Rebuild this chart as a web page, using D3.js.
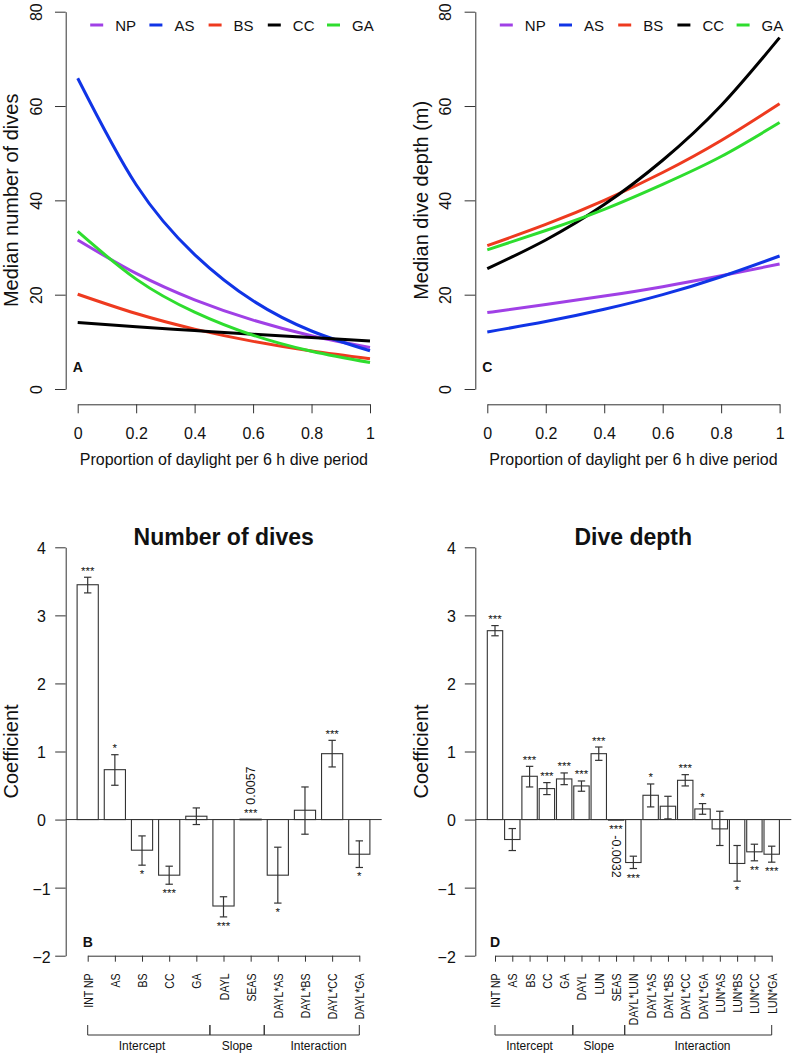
<!DOCTYPE html>
<html><head><meta charset="utf-8">
<script src="https://cdn.jsdelivr.net/npm/d3@7"></script>
<style>
body{margin:0;background:#fff}
svg{display:block;background:#fff}
text{font-family:"Liberation Sans",Arial,Helvetica,sans-serif;fill:#111}
</style>
</head><body>
<svg id="chart" width="795" height="1056"></svg>
<script>
// ---------- DATA ----------
const species = ["NP", "AS", "BS", "CC", "GA"];
const speciesColors = ["#A040E6", "#1034E6", "#EE3A1F", "#000000", "#2EDD2E"];
const daylight = [0, 0.2, 0.4, 0.6, 0.8, 1];
const xTickValues = [0, 0.2, 0.4, 0.6, 0.8, 1];
const xTickLabels = ["0", "0.2", "0.4", "0.6", "0.8", "1"];
const yTickTop = [0, 20, 40, 60, 80];

// Panel A: median number of dives
const divesNP = [31.6, 24.5, 18.9, 14.6, 11.3, 8.8];
const divesAS = [65.9, 43.3, 28.5, 18.7, 12.3, 8.1];
const divesBS = [20.1, 16.0, 12.7, 10.1, 8.05, 6.4];
const divesCC = [14.1, 13.2, 12.4, 11.6, 10.9, 10.2];
const divesGA = [33.4, 23.3, 16.3, 11.4, 8.0, 5.6];

// Panel C: median dive depth (m)
const depthNP = [16.2, 17.9, 19.7, 21.7, 24.0, 26.5];
const depthAS = [12.1, 14.3, 16.9, 20.0, 23.8, 28.2];
const depthBS = [30.4, 34.9, 40.0, 45.9, 52.7, 60.5];
const depthCC = [25.5, 31.6, 39.1, 48.5, 60.1, 74.5];
const depthGA = [29.5, 33.6, 38.1, 43.4, 49.3, 56.5];

// Panel B: coefficients, number of dives
const bCats = ["INT NP", "AS", "BS", "CC", "GA", "DAYL", "SEAS", "DAYL*AS", "DAYL*BS", "DAYL*CC", "DAYL*GA"];
const bVals = [3.45, 0.733, -0.45, -0.817, 0.049, -1.27, 0.0057, -0.817, 0.137, 0.968, -0.509];
const bLo   = [3.33, 0.504, -0.67, -0.95, -0.073, -1.43, 0.0057, -1.227, -0.215, 0.773, -0.704];
const bHi   = [3.56, 0.953, -0.24, -0.685, 0.171, -1.134, 0.0057, -0.406, 0.479, 1.164, -0.313];
const bSig  = ["***", "*", "*", "***", "", "***", "***", "*", "", "***", "*"];
const bNote = ["", "", "", "", "", "", "0.0057", "", "", "", ""];
const bGroups = ["Intercept", "Slope", "Interaction"];
const bGroupOf = [0, 0, 0, 0, 0, 1, 1, 2, 2, 2, 2];

// Panel D: coefficients, dive depth
const dCats = ["INT NP", "AS", "BS", "CC", "GA", "DAYL", "LUN", "SEAS", "DAYL*LUN", "DAYL*AS", "DAYL*BS", "DAYL*CC", "DAYL*GA", "LUN*AS", "LUN*BS", "LUN*CC", "LUN*GA"];
const dVals = [2.775, -0.293, 0.636, 0.455, 0.597, 0.494, 0.968, -0.0032, -0.631, 0.357, 0.196, 0.577, 0.156, -0.137, -0.645, -0.474, -0.509];
const dLo   = [2.70, -0.455, 0.479, 0.367, 0.513, 0.416, 0.870, -0.0032, -0.719, 0.186, 0.01, 0.494, 0.078, -0.381, -0.905, -0.606, -0.626];
const dHi   = [2.85, -0.132, 0.782, 0.543, 0.685, 0.567, 1.066, -0.0032, -0.538, 0.523, 0.342, 0.660, 0.235, 0.122, -0.381, -0.362, -0.391];
const dSig  = ["***", "", "***", "***", "***", "***", "***", "***", "***", "*", "", "***", "*", "", "*", "**", "***"];
const dNote = ["", "", "", "", "", "", "", "-0.0032", "", "", "", "", "", "", "", "", ""];
const dGroups = ["Intercept", "Slope", "Interaction"];
const dGroupOf = [0, 0, 0, 0, 0, 1, 1, 1, 2, 2, 2, 2, 2, 2, 2, 2, 2];
const yTickBar = [-2, -1, 0, 1, 2, 3, 4];

// ---------- DRAWING ----------
const svg = d3.select("#chart");
const AX = "#333";

function lineChart(o) {
  const g = svg.append("g");
  const x = d3.scaleLinear().domain([0, 1]).range([o.x0, o.x0 + 292.3]);
  const y = d3.scaleLinear().domain([0, 80]).range([389, 11.7]);

  const ya = g.append("g").attr("transform", `translate(${o.axisX},0)`)
    .call(d3.axisLeft(y).tickValues(yTickTop).tickFormat(d3.format("d")).tickSize(10.7).tickSizeOuter(0));
  ya.select(".domain").attr("stroke", AX);
  ya.selectAll(".tick line").attr("stroke", AX);
  ya.selectAll(".tick text").attr("x", 0).attr("dy", 0)
    .attr("transform", "translate(-24,0) rotate(-90)")
    .attr("text-anchor", "middle").style("font-size", "16px").attr("fill", "#111");

  const xa = g.append("g").attr("transform", `translate(0,404.3)`)
    .call(d3.axisBottom(x).tickValues(xTickValues).tickFormat((d, i) => xTickLabels[i]).tickSize(9).tickSizeOuter(0));
  xa.select(".domain").attr("stroke", AX);
  xa.selectAll(".tick line").attr("stroke", AX);
  xa.selectAll(".tick text").attr("y", 34.7).attr("dy", 0).style("font-size", "16px").attr("fill", "#111");

  g.append("text").attr("x", x(0.5)).attr("y", 464.8).attr("text-anchor", "middle")
    .style("font-size", "16px").text("Proportion of daylight per 6 h dive period");

  g.append("text").attr("transform", `translate(${o.axisX - 47.4},${y(40)}) rotate(-90)`)
    .attr("text-anchor", "middle").style("font-size", "20px").text(o.ylab);

  const line = d3.line().x((d, i) => x(daylight[i])).y(d => y(d)).curve(d3.curveNatural);
  o.series.forEach((s, i) => {
    g.append("path").attr("d", line(s)).attr("fill", "none")
      .attr("stroke", speciesColors[i]).attr("stroke-width", 3);
  });

  species.forEach((s, i) => {
    const tx = o.x0 + 37.5 + i * 59.2;
    g.append("line").attr("x1", tx - 25).attr("x2", tx - 12).attr("y1", 25).attr("y2", 25)
      .attr("stroke", speciesColors[i]).attr("stroke-width", 3);
    g.append("text").attr("x", tx).attr("y", 30.6).style("font-size", "15px").text(s);
  });

  g.append("text").attr("x", x(0)).attr("y", 371.7).attr("text-anchor", "middle")
    .style("font-size", "14px").style("font-weight", "bold").text(o.letter);
}

lineChart({x0: 77.7, axisX: 65.7, ylab: "Median number of dives", letter: "A",
  series: [divesNP, divesAS, divesBS, divesCC, divesGA]});
lineChart({x0: 487.3, axisX: 475.3, ylab: "Median dive depth (m)", letter: "C",
  series: [depthNP, depthAS, depthBS, depthCC, depthGA]});

function barChart(o) {
  const g = svg.append("g");
  const y = d3.scaleLinear().domain([-2, 4]).range([955.7, 547.3]);
  const x = d3.scalePoint().domain(o.cats).range([o.first, o.last]);
  const step = x.step();
  const bw = step * o.ratio;

  const ya = g.append("g").attr("transform", `translate(${o.axisX},0)`)
    .call(d3.axisLeft(y).tickValues(yTickBar).tickFormat(d3.format("d")).tickSize(10.5).tickSizeOuter(0));
  ya.select(".domain").attr("stroke", AX);
  ya.selectAll(".tick line").attr("stroke", AX);
  ya.selectAll(".tick text").attr("x", o.labX).attr("dy", "0.4em")
    .attr("text-anchor", o.labAnchor).style("font-size", "16px").attr("fill", "#111");

  g.append("text").attr("transform", `translate(${o.axisX - 47.4},${(y(-2) + y(4)) / 2}) rotate(-90)`)
    .attr("text-anchor", "middle").style("font-size", "20px").text("Coefficient");

  g.append("text").attr("x", o.axisX + 158).attr("y", 545).attr("text-anchor", "middle")
    .style("font-size", "23px").style("font-weight", "bold").text(o.title);

  g.append("line").attr("x1", o.axisX).attr("x2", o.axisX + 316).attr("y1", y(0)).attr("y2", y(0))
    .attr("stroke", AX).attr("stroke-width", 1);

  o.cats.forEach((c, i) => {
    const v = o.vals[i];
    const cx = x(c);
    g.append("rect").attr("x", cx - bw / 2).attr("width", bw)
      .attr("y", Math.min(y(v), y(0))).attr("height", Math.max(0.6, Math.abs(y(v) - y(0))))
      .attr("fill", "#fff").attr("stroke", AX).attr("stroke-width", 1.1);
    if (o.hi[i] !== o.lo[i]) {
      g.append("line").attr("x1", cx).attr("x2", cx).attr("y1", y(o.hi[i])).attr("y2", y(o.lo[i]))
        .attr("stroke", AX).attr("stroke-width", 1.2);
      [o.hi[i], o.lo[i]].forEach(e => {
        g.append("line").attr("x1", cx - 3.7).attr("x2", cx + 3.7).attr("y1", y(e)).attr("y2", y(e))
          .attr("stroke", AX).attr("stroke-width", 1.2);
      });
    }
    const pos = v >= 0;
    const sy = pos ? y(o.hi[i]) - 2.5 : y(o.lo[i]) + 13;
    if (o.sig[i]) {
      g.append("text").attr("x", cx).attr("y", sy).attr("text-anchor", "middle")
        .style("font-size", "11.5px").attr("fill", "#222").text(o.sig[i]);
    }
    if (o.note[i]) {
      if (pos) {
        g.append("text").attr("transform", `translate(${cx + 4.3},${sy - 12}) rotate(-90)`)
          .attr("text-anchor", "start").style("font-size", "12.5px").text(o.note[i]);
      } else {
        g.append("text").attr("transform", `translate(${cx - 4.3},${sy + 2.5}) rotate(90)`)
          .attr("text-anchor", "start").style("font-size", "12.5px").text(o.note[i]);
      }
    }
  });

  const xa = g.append("g").attr("transform", `translate(0,955.7)`)
    .call(d3.axisBottom(x).tickSize(6).tickSizeOuter(0));
  xa.select(".domain").attr("stroke", AX);
  xa.selectAll(".tick line").attr("stroke", AX);
  xa.selectAll(".tick text").attr("x", 0).attr("y", 0).attr("dy", 0)
    .attr("transform", "translate(4.5,17.8) rotate(-90) scale(0.84,1)")
    .attr("text-anchor", "end").style("font-size", "12.5px").attr("fill", "#111");

  o.groups.forEach((gname, k) => {
    const idx = o.groupOf.map((gg, i) => gg === k ? i : -1).filter(i => i >= 0);
    const a = idx[0], b = idx[idx.length - 1];
    const left = a === 0 ? x(o.cats[a]) : x(o.cats[a]) - step / 2;
    const right = b === o.cats.length - 1 ? x(o.cats[b]) : x(o.cats[b]) + step / 2;
    g.append("path").attr("d", `M${left},1025V1035H${right}V1025`)
      .attr("fill", "none").attr("stroke", AX).attr("stroke-width", 1);
    g.append("text").attr("x", (x(o.cats[a]) + x(o.cats[b])) / 2).attr("y", 1050)
      .attr("text-anchor", "middle").style("font-size", "12px").text(gname);
  });

  g.append("text").attr("x", o.first).attr("y", 947.3).attr("text-anchor", "middle")
    .style("font-size", "14px").style("font-weight", "bold").text(o.letter);
}

barChart({cats: bCats, vals: bVals, lo: bLo, hi: bHi, sig: bSig, note: bNote,
  groups: bGroups, groupOf: bGroupOf, first: 87.7, last: 359.3, ratio: 0.78,
  axisX: 65.7, labX: -24.2, labAnchor: "middle", title: "Number of dives", letter: "B"});
barChart({cats: dCats, vals: dVals, lo: dLo, hi: dHi, sig: dSig, note: dNote,
  groups: dGroups, groupOf: dGroupOf, first: 495, last: 771.7, ratio: 0.89,
  axisX: 475.3, labX: -19.5, labAnchor: "end", title: "Dive depth", letter: "D"});
</script>
</body></html>
